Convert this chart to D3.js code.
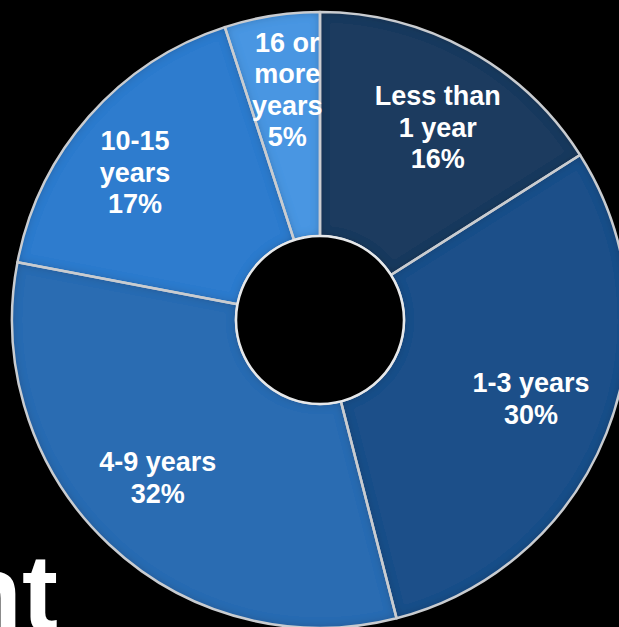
<!DOCTYPE html>
<html><head><meta charset="utf-8">
<script src="https://cdn.jsdelivr.net/npm/d3@7"></script>
<style>html,body{margin:0;padding:0;background:#000;overflow:hidden}</style>
</head><body>
<svg id="chart" width="619" height="627"></svg>
<script>
const categories = ["Less than 1 year", "1-3 years", "4-9 years", "10-15 years", "16 or more years"];
const values = [16, 30, 32, 17, 5];
const labelLines = [["Less than", "1 year", "16%"], ["1-3 years", "30%"], ["4-9 years", "32%"], ["10-15", "years", "17%"], ["16 or", "more", "years", "5%"]];
const colors = ["#1b3a5f", "#1f5089", "#2a6cb2", "#2f7cce", "#4a96e2"];
const titleFragment = "nt";

const svg = d3.select("#chart");
const W = 619, H = 627;
const cx = 320, cy = 320, rOuter = 308, rInner = 84;
// label placement layout (radius, angular nudge in degrees)
const labelRadius = [226, 225, 226, 237, 233];
const labelNudge = [2.6, -1.3, 2.7, -2.7, 0.9];

svg.append("rect").attr("width", W).attr("height", H).attr("fill", "#000");

// background title fragment (cut off by the frame, as in the reference)
svg.append("text").attr("x", 58).attr("y", 630).attr("text-anchor", "end")
  .attr("font-family", "Liberation Sans, Arial, sans-serif").attr("font-weight", "bold")
  .attr("font-size", 108).attr("fill", "#fff").text(titleFragment);

const defs = svg.append("defs");
const f = defs.append("filter").attr("id", "bevel").attr("x", "-10%").attr("y", "-10%").attr("width", "120%").attr("height", "120%");
f.append("feGaussianBlur").attr("in", "SourceAlpha").attr("stdDeviation", 5).attr("result", "blur");
f.append("feComposite").attr("in", "SourceAlpha").attr("in2", "blur").attr("operator", "arithmetic")
  .attr("k2", 1).attr("k3", -1).attr("result", "edge");
f.append("feFlood").attr("flood-color", "#000").attr("flood-opacity", 0.45);
f.append("feComposite").attr("in2", "edge").attr("operator", "in").attr("result", "shadow");
f.append("feMerge").selectAll("feMergeNode").data(["SourceGraphic", "shadow"]).join("feMergeNode").attr("in", d => d);

const pie = d3.pie().sort(null).value(d => d)(values);
const arc = d3.arc().innerRadius(rInner).outerRadius(rOuter);

const g = svg.append("g").attr("transform", `translate(${cx},${cy})`);

g.selectAll("path.slice").data(pie).join("path").attr("class", "slice")
  .attr("d", arc).attr("fill", (d, i) => colors[i]).attr("filter", "url(#bevel)");

g.selectAll("path.edge").data(pie).join("path").attr("class", "edge")
  .attr("d", arc).attr("fill", "none").attr("stroke", "#c9ccd0").attr("stroke-width", 2.5)
  .attr("stroke-linejoin", "round");

g.append("circle").attr("r", rInner).attr("fill", "#000").attr("stroke", "#e6e8ea").attr("stroke-width", 2.5);

const lh = 31.5, fs = 27;
g.selectAll("text.lbl").data(pie).join("text").attr("class", "lbl")
  .attr("transform", (d, i) => {
    const a = (d.startAngle + d.endAngle) / 2 + labelNudge[i] * Math.PI / 180;
    const p = d3.pointRadial(a, labelRadius[i]);
    return `translate(${p[0]},${p[1]})`;
  })
  .attr("text-anchor", "middle").attr("fill", "#fff")
  .attr("font-family", "Liberation Sans, Arial, sans-serif").attr("font-weight", "bold").attr("font-size", fs)
  .each(function (d, i) {
    const lines = labelLines[i];
    const t = d3.select(this);
    const y0 = -(lines.length - 1) * lh / 2 + fs * 0.36;
    lines.forEach((s, j) => t.append("tspan").attr("x", 0).attr("y", y0 + j * lh).text(s));
  });
</script>
</body></html>
